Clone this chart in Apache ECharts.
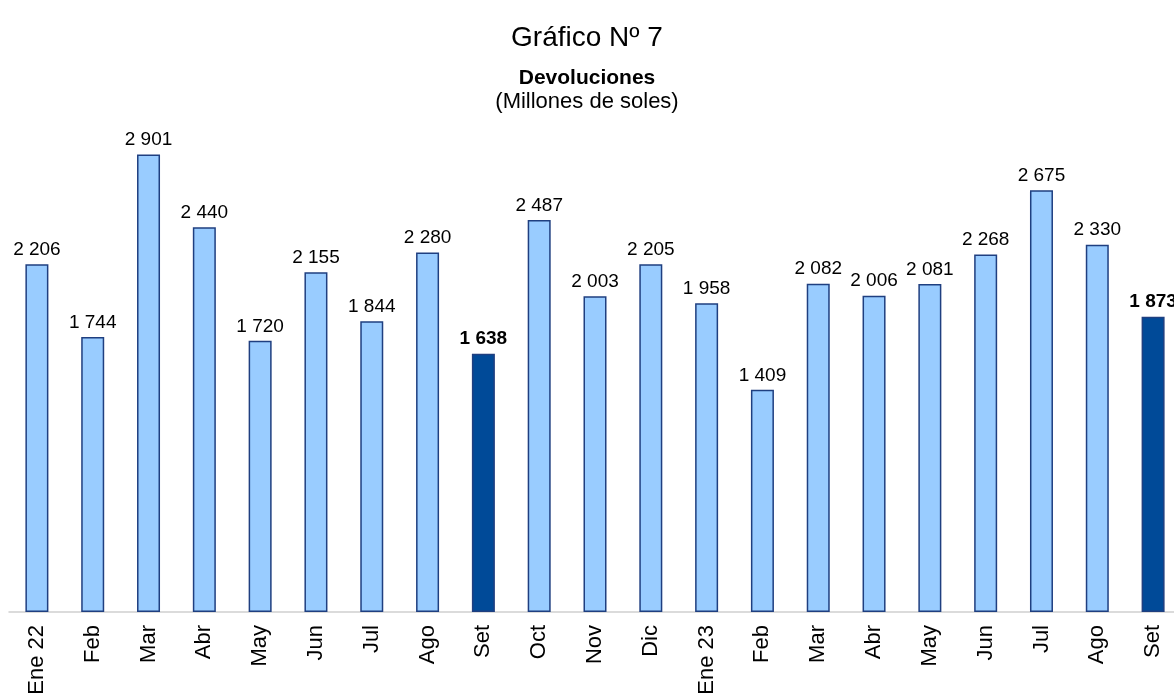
<!DOCTYPE html>
<html>
<head>
<meta charset="utf-8">
<script src="https://cdn.jsdelivr.net/npm/echarts@6/dist/echarts.min.js"></script>
<style>
  html, body { margin: 0; padding: 0; background: #fff; }
  #chart { width: 1174px; height: 694px; }
</style>
</head>
<body>
<div id="chart"></div>
<script>
const categories = ['Ene 22', 'Feb', 'Mar', 'Abr', 'May', 'Jun', 'Jul', 'Ago', 'Set', 'Oct', 'Nov', 'Dic',
  'Ene 23', 'Feb', 'Mar', 'Abr', 'May', 'Jun', 'Jul', 'Ago', 'Set']
const values = [2206, 1744, 2901, 2440, 1720, 2155, 1844, 2280, 1638, 2487, 2003, 2205,
  1958, 1409, 2082, 2006, 2081, 2268, 2675, 2330, 1873]
// months highlighted in dark blue
const highlight = [8, 20]

function fmt(v) {
  return String(v).replace(/\B(?=(\d{3})+(?!\d))/g, ' ')
}

const chart = echarts.init(document.getElementById('chart'))
const data = values.map((v, i) => {
  const hi = highlight.includes(i)
  return {
    value: v,
    itemStyle: { color: hi ? '#004A98' : '#99CCFF', borderColor: '#1F3F80', borderWidth: 1.5 },
    label: { fontWeight: hi ? 'bold' : 'normal' }
  }
})

chart.setOption({
  animation: false,
  textStyle: { fontFamily: 'Liberation Sans, Arial, sans-serif' },
  title: [
    { text: 'Gráfico Nº 7', left: 'center', top: 19, textStyle: { fontSize: 28, fontWeight: 'normal', color: '#000' } },
    {
      text: '{b|Devoluciones}\n(Millones de soles)',
      left: 'center',
      top: 62,
      textStyle: {
        fontSize: 22, fontWeight: 'normal', color: '#000', lineHeight: 23,
        rich: { b: { fontSize: 21, fontWeight: 'bold', color: '#000', lineHeight: 23 } }
      }
    }
  ],
  // last category runs past the right edge, as in the original
  grid: { left: 9, width: 1172, top: 139, height: 473, containLabel: false, outerBoundsMode: 'none' },
  xAxis: {
    type: 'category',
    data: categories,
    axisLine: { lineStyle: { color: '#d0d0d0', width: 1.5 } },
    axisTick: { show: false },
    axisLabel: { rotate: 90, fontSize: 22, color: '#000', margin: 13, interval: 0 }
  },
  yAxis: {
    type: 'value',
    min: 0,
    max: 3000,
    show: false,
    splitLine: { show: false }
  },
  series: [{
    type: 'bar',
    data: data,
    barWidth: 23,
    label: {
      show: true,
      position: 'top',
      distance: 5,
      fontSize: 19,
      color: '#000',
      formatter: p => fmt(p.value)
    }
  }]
})
</script>
</body>
</html>
